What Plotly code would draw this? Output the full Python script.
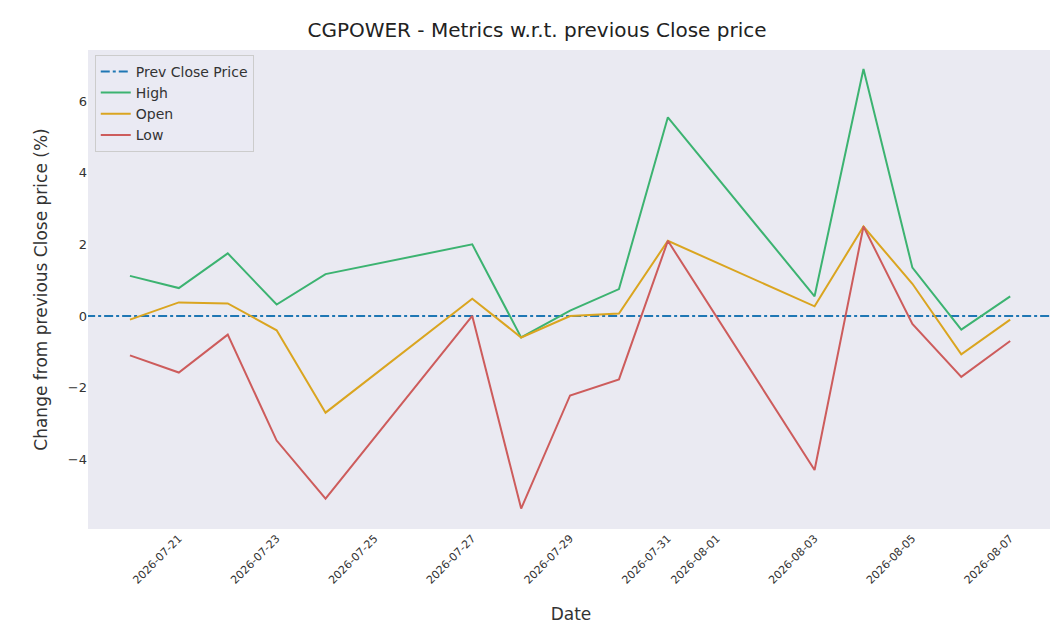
import plotly.graph_objects as go
import pandas as pd

dates = ["2026-07-20", "2026-07-21", "2026-07-22", "2026-07-23", "2026-07-24",
         "2026-07-27", "2026-07-28", "2026-07-29", "2026-07-30", "2026-07-31",
         "2026-08-03", "2026-08-04", "2026-08-05", "2026-08-06", "2026-08-07"]
high = [1.12, 0.78, 1.75, 0.32, 1.17, 2.0, -0.6, 0.15, 0.75, 5.55, 0.55, 6.9, 1.35, -0.38, 0.55]
open_ = [-0.1, 0.38, 0.35, -0.4, -2.7, 0.48, -0.6, 0.0, 0.07, 2.1, 0.27, 2.5, 0.9, -1.07, -0.1]
low = [-1.1, -1.58, -0.52, -3.48, -5.1, 0.0, -5.38, -2.22, -1.77, 2.1, -4.3, 2.5, -0.22, -1.7, -0.7]
tick_dates = ["2026-07-21", "2026-07-23", "2026-07-25", "2026-07-27", "2026-07-29",
              "2026-07-31", "2026-08-01", "2026-08-03", "2026-08-05", "2026-08-07"]

x = pd.to_datetime(dates)
fig = go.Figure()
fig.add_trace(go.Scatter(x=[pd.Timestamp("2026-07-18"), pd.Timestamp("2026-08-10")], y=[0, 0],
                         mode="lines", line=dict(color="#1f77b4", width=2, dash="dashdot"),
                         name="Prev Close Price"))
fig.add_trace(go.Scatter(x=x, y=high, mode="lines", line=dict(color="#3cb371", width=2), name="High"))
fig.add_trace(go.Scatter(x=x, y=open_, mode="lines", line=dict(color="#daa520", width=2), name="Open"))
fig.add_trace(go.Scatter(x=x, y=low, mode="lines", line=dict(color="#cd5c5c", width=2), name="Low"))

fig.update_layout(
    width=1058, height=642,
    title=dict(text="CGPOWER - Metrics w.r.t. previous Close price", x=0.5, y=0.965,
               yanchor="middle", yref="container", font=dict(size=20, color="#222")),
    font=dict(family="DejaVu Sans", color="#333"),
    paper_bgcolor="white", plot_bgcolor="#EAEAF2",
    margin=dict(l=80, r=12, t=42, b=121, autoexpand=False),
    xaxis=dict(title=dict(text="Date", font=dict(size=17), standoff=22),
               range=[pd.Timestamp("2026-07-19 03:25"), pd.Timestamp("2026-08-07 21:30")],
               tickvals=pd.to_datetime(tick_dates), ticktext=tick_dates, tickangle=-45,
               tickfont=dict(size=11), showgrid=False, zeroline=False, automargin=False),
    yaxis=dict(title=dict(text="Change from previous Close price (%)", font=dict(size=17)),
               range=[-5.95, 7.43], tickvals=[-4, -2, 0, 2, 4, 6], tickfont=dict(size=13),
               showgrid=False, zeroline=False, automargin=False),
    legend=dict(x=0.007, y=0.99, bgcolor="rgba(234,234,242,0.8)", bordercolor="#ccc",
                borderwidth=1, font=dict(size=14)),
    showlegend=True,
)
fig.write_html("out.html")
